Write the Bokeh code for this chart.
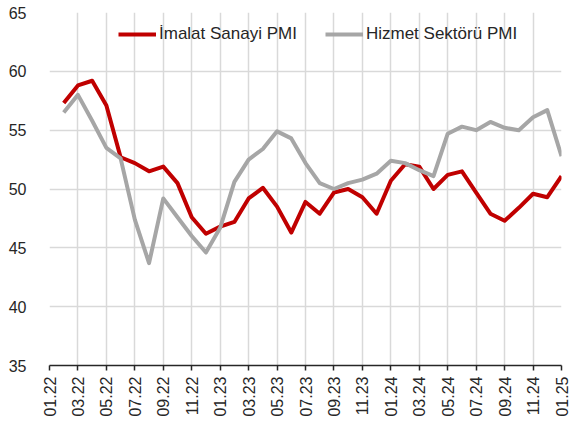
from bokeh.plotting import figure
from bokeh.models import ColumnDataSource, FixedTicker, Range1d, Legend, LegendItem
from bokeh.embed import file_html
from bokeh.resources import INLINE

# ---- data ----
months = ["02.22", "03.22", "04.22", "05.22", "06.22", "07.22", "08.22", "09.22",
          "10.22", "11.22", "12.22", "01.23", "02.23", "03.23", "04.23", "05.23",
          "06.23", "07.23", "08.23", "09.23", "10.23", "11.23", "12.23", "01.24",
          "02.24", "03.24", "04.24", "05.24", "06.24", "07.24", "08.24", "09.24",
          "10.24", "11.24", "12.24", "01.25"]
imalat = [57.3, 58.8, 59.2, 57.1, 52.7, 52.2, 51.5, 51.9,
          50.5, 47.6, 46.2, 46.8, 47.2, 49.2, 50.1, 48.5,
          46.3, 48.9, 47.9, 49.7, 50.0, 49.3, 47.9, 50.7,
          52.1, 51.9, 50.0, 51.2, 51.5, 49.7, 47.9, 47.3,
          48.4, 49.6, 49.3, 51.1]
hizmet = [56.5, 58.0, 55.8, 53.5, 52.6, 47.4, 43.7, 49.2,
          47.6, 46.0, 44.6, 46.7, 50.6, 52.5, 53.4, 54.9,
          54.3, 52.2, 50.5, 50.0, 50.5, 50.8, 51.3, 52.4,
          52.2, 51.6, 51.1, 54.7, 55.3, 55.0, 55.7, 55.2,
          55.0, 56.1, 56.7, 52.8]
tick_labels = ["01.22", "03.22", "05.22", "07.22", "09.22", "11.22",
               "01.23", "03.23", "05.23", "07.23", "09.23", "11.23",
               "01.24", "03.24", "05.24", "07.24", "09.24", "11.24", "01.25"]
y_ticks = [35, 40, 45, 50, 55, 60, 65]
series_names = ["İmalat Sanayi PMI", "Hizmet Sektörü PMI"]


def month_index(lbl):
    m, y = lbl.split(".")
    return (int(y) - 22) * 12 + int(m) - 1


xs = [month_index(m) for m in months]
tick_pos = [month_index(t) for t in tick_labels]

src = ColumnDataSource(dict(x=xs, imalat=imalat, hizmet=hizmet))

FONT = "Liberation Sans"
TXT = "#262626"

p = figure(width=571, height=430, output_backend="svg", toolbar_location=None,
           x_range=Range1d(0, 36), y_range=Range1d(35, 65),
           min_border_left=49, min_border_right=10, min_border_top=12,
           min_border_bottom=65)
p.outline_line_color = None

r1 = p.line("x", "imalat", source=src, line_color="#c00000", line_width=4,
            line_join="round")
r2 = p.line("x", "hizmet", source=src, line_color="#a6a6a6", line_width=4,
            line_join="round")

# axes
p.xaxis.ticker = FixedTicker(ticks=tick_pos)
p.xaxis.major_label_overrides = {pos: lbl for pos, lbl in zip(tick_pos, tick_labels)}
p.xaxis.major_label_orientation = 1.5708
p.xaxis.major_label_text_font = FONT
p.xaxis.major_label_text_font_size = "16px"
p.xaxis.major_label_text_color = TXT
p.xaxis.axis_line_color = "#262626"
p.xaxis.axis_line_width = 1.5
p.xaxis.major_tick_line_color = "#262626"
p.xaxis.major_tick_line_width = 1.5
p.xaxis.major_tick_out = 5
p.xaxis.major_tick_in = 0
p.xaxis.minor_tick_line_color = None
p.xaxis.major_label_standoff = 6

p.yaxis.ticker = FixedTicker(ticks=y_ticks)
p.yaxis.major_label_text_font = FONT
p.yaxis.major_label_text_font_size = "16px"
p.yaxis.major_label_text_color = TXT
p.yaxis.axis_line_color = None
p.yaxis.major_tick_line_color = None
p.yaxis.minor_tick_line_color = None
p.yaxis.major_label_standoff = 17

# grid
p.xgrid.ticker = FixedTicker(ticks=tick_pos)
p.xgrid.grid_line_color = "#d9d9d9"
p.xgrid.grid_line_width = 1.5
p.ygrid.ticker = FixedTicker(ticks=y_ticks)
p.ygrid.grid_line_color = "#d9d9d9"
p.ygrid.grid_line_width = 1.5

legend = Legend(items=[LegendItem(label=series_names[0], renderers=[r1]),
                       LegendItem(label=series_names[1], renderers=[r2])],
                orientation="horizontal", location=(69, 321),
                glyph_width=38, glyph_height=20, label_standoff=3, spacing=28,
                padding=0, margin=0, border_line_color=None,
                background_fill_alpha=0,
                label_text_font=FONT, label_text_font_size="17px",
                label_text_color=TXT)
p.add_layout(legend, "center")

open("out.html", "w").write(file_html(p, INLINE))
